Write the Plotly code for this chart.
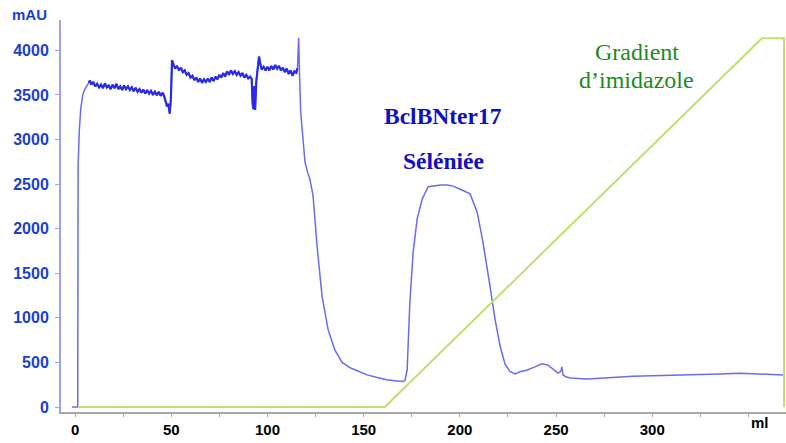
import plotly.graph_objects as go

# UV absorbance trace (ml, mAU)
uv_ml = [-1.6, 1.4, 1.6, 2.2, 3, 4, 5, 6, 7, 7.8, 8.5, 9.5, 10.5, 11.5, 12.5, 13.5, 14.5, 15.5, 16.5, 17.5,
         18.5, 19.5, 20.5, 21.5, 22.5, 23.5, 24.5, 25.5, 26.5, 27.5, 28.5, 29.5, 30.5, 31.5, 32.5, 33.5,
         34.5, 35.5, 36.5, 37.5, 38.5, 39.5, 40.5, 41.5, 42.5, 43.5, 44.5, 45.5, 46.3, 47, 47.8, 48.5,
         49.2, 49.8, 50.4, 51.2, 52, 53, 54, 55, 56, 57, 58, 59, 60, 61, 62, 63, 64, 65, 66, 67, 68, 69,
         70, 71, 72, 73, 74, 75, 76, 77, 78, 79, 80, 81, 82, 83, 84, 85, 86, 87, 88, 89, 90, 91, 91.8,
         92.3, 92.7, 93.2, 93.6, 94.2, 95, 95.6, 96.3, 97, 98, 99, 100, 101, 102, 103, 104, 105, 106,
         107, 108, 109, 110, 111, 112, 113, 114, 115, 115.6, 116.2, 116.7, 117.3, 118, 119.5, 121, 122,
         123.7, 125.8, 128.4, 131.5, 135, 138.8, 143, 147, 151.8, 157, 162, 166, 170.5, 171.5, 172.6,
         174, 175.7, 177.8, 180.4, 183.5, 186, 190, 193.3, 196, 200, 205.3, 209, 212, 215.7, 218.3, 221,
         223.5, 226, 228.7, 231.3, 235, 239, 242.7, 245.8, 249, 251, 252.5, 253, 253.6, 255, 257.3, 262,
         266, 275, 290, 305, 325, 335, 345.6, 355, 362, 368]
uv_mau = [0, 0, 2700, 3100, 3350, 3500, 3560, 3600, 3640, 3660, 3615, 3645, 3595, 3625, 3585, 3615, 3575,
          3630, 3585, 3605, 3565, 3615, 3575, 3625, 3565, 3595, 3555, 3605, 3565, 3595, 3555, 3585, 3540,
          3580, 3535, 3565, 3525, 3560, 3515, 3555, 3515, 3545, 3500, 3535, 3495, 3535, 3490, 3525, 3485,
          3420, 3370, 3400, 3290, 3450, 3890, 3840, 3795, 3825, 3775, 3805, 3755, 3775, 3725, 3745, 3695,
          3715, 3665, 3695, 3645, 3685, 3635, 3675, 3645, 3685, 3645, 3695, 3655, 3705, 3675, 3725, 3695,
          3745, 3705, 3765, 3725, 3775, 3735, 3765, 3725, 3755, 3715, 3745, 3695, 3725, 3685, 3705, 3680,
          3400, 3340, 3600, 3330, 3650, 3850, 3930, 3850, 3785, 3815, 3775, 3815, 3775, 3825, 3785, 3835,
          3795, 3825, 3775, 3805, 3755, 3795, 3735, 3775, 3715, 3765, 3750, 3800, 4140, 3700, 3300, 3120,
          2750, 2620, 2560, 2370, 1800, 1240, 870, 640, 500, 440, 400, 360, 330, 305, 295, 285, 300, 415,
          1170, 1735, 2110, 2330, 2470, 2480, 2490, 2490, 2480, 2445, 2390, 2185, 1850, 1350, 980, 675,
          480, 400, 370, 395, 415, 450, 485, 470, 420, 380, 400, 450, 360, 340, 325, 318, 315, 325, 345,
          352, 360, 370, 378, 370, 365, 360]

# Imidazole gradient (ml, % B)
grad_ml = [1.6, 161, 357, 368.5, 368.5]
grad_pct = [0, 0, 100, 100, 0]

x_tick_vals = [0, 50, 100, 150, 200, 250, 300]
y_tick_vals = [0, 500, 1000, 1500, 2000, 2500, 3000, 3500, 4000]

Y_MIN, Y_MAX = -56, 4340
GRAD_FULL = 4135  # mAU level where gradient reaches 100 %
NOISY_END = uv_ml.index(116.2) + 1  # noisy loading plateau drawn darker

fig = go.Figure()
fig.add_trace(go.Scatter(x=grad_ml, y=grad_pct, mode="lines", yaxis="y2",
                         line=dict(color="#bfe070", width=2), hoverinfo="skip"))
fig.add_trace(go.Scatter(x=uv_ml, y=uv_mau, mode="lines",
                         line=dict(color="#6a6af2", width=1.5)))
fig.add_trace(go.Scatter(x=uv_ml[8:NOISY_END - 1], y=uv_mau[8:NOISY_END - 1], mode="lines",
                         line=dict(color="#2a2ae8", width=2.2)))

blue = "#1a3fcf"
fig.update_layout(
    width=786, height=443,
    margin=dict(l=61, r=0, t=20, b=31, autoexpand=False),
    paper_bgcolor="white", plot_bgcolor="white",
    showlegend=False,
    xaxis=dict(range=[-7.3, 369.5], tickvals=x_tick_vals, ticktext=[str(v) for v in x_tick_vals],
               showgrid=False, zeroline=False, showline=True, linecolor="#a8a8a8", linewidth=2,
               ticks="outside", ticklen=3, tickcolor="#a8a8a8", automargin=False,
               minor=dict(dtick=25, tick0=0, ticks="outside", ticklen=3, tickcolor="#a8a8a8"),
               tickfont=dict(family="Liberation Sans", size=15, color="black", weight="bold")),
    yaxis=dict(range=[Y_MIN, Y_MAX], tickvals=y_tick_vals, showgrid=False, zeroline=False,
               showline=True, linecolor="#a0a0f0", linewidth=2, ticks="outside", ticklen=4,
               tickcolor="#a0a0f0", automargin=False, ticklabelstandoff=3,
               tickfont=dict(family="Liberation Sans", size=16, color=blue, weight="bold")),
    yaxis2=dict(range=[Y_MIN * 100 / GRAD_FULL, Y_MAX * 100 / GRAD_FULL], overlaying="y",
                visible=False),
    annotations=[
        dict(text="mAU", xref="paper", yref="paper", x=-0.043, y=1.015, xanchor="center",
             yanchor="middle", showarrow=False,
             font=dict(family="Liberation Sans", size=15, color=blue, weight="bold")),
        dict(text="ml", xref="x", yref="paper", x=356, y=0, yshift=-21, showarrow=False,
             font=dict(family="Liberation Sans", size=15, color="black", weight="bold")),
        dict(text="BclBNter17", x=191.3, y=3268, showarrow=False,
             font=dict(family="Liberation Serif", size=23.5, color="#1010c0", weight="bold")),
        dict(text="Séléniée", x=191.3, y=2760, showarrow=False,
             font=dict(family="Liberation Serif", size=23.5, color="#1010c0", weight="bold")),
        dict(text="Gradient", x=292, y=3977, showarrow=False,
             font=dict(family="Liberation Serif", size=24, color="#1a8c1a")),
        dict(text="d’imidazole", x=292, y=3662, showarrow=False,
             font=dict(family="Liberation Serif", size=24, color="#1a8c1a")),
    ],
)

fig.write_html("out.html", config={"displayModeBar": False},
               post_script="document.body.style.margin='0px';")
